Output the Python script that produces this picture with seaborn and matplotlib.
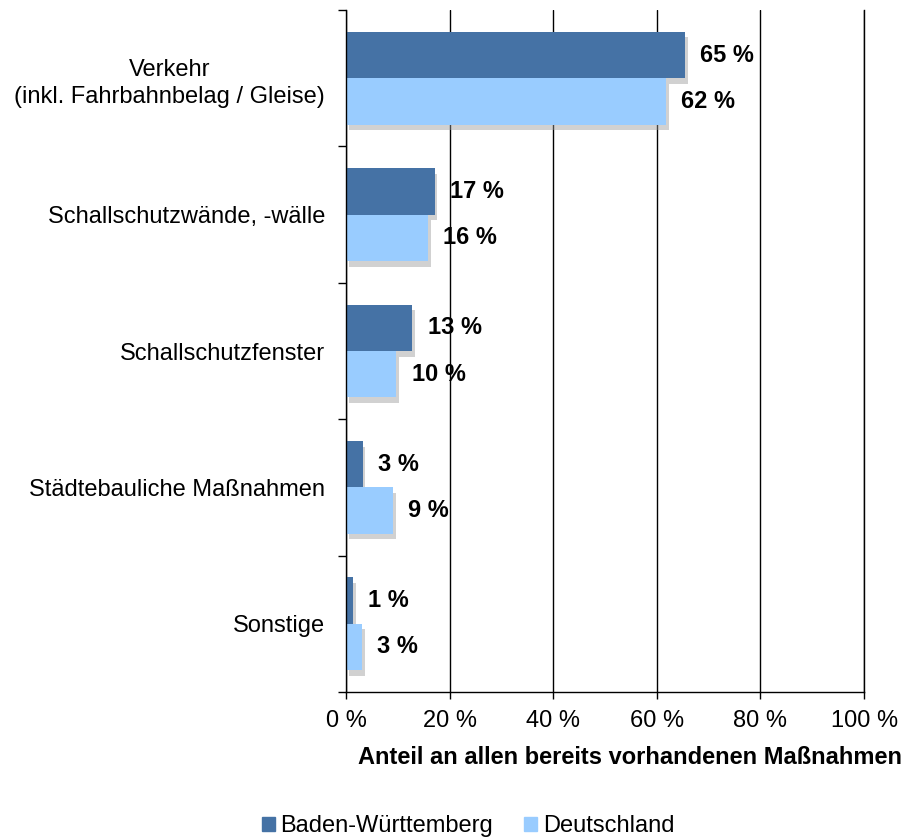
import pandas as pd
import matplotlib.pyplot as plt
import matplotlib.patheffects as pe
import seaborn as sns
from matplotlib.ticker import FixedLocator, MultipleLocator, FuncFormatter

# Daten
kategorien = ['Verkehr\n(inkl. Fahrbahnbelag / Gleise)',
              'Schallschutzwände, -wälle',
              'Schallschutzfenster',
              'Städtebauliche Maßnahmen',
              'Sonstige']
bw_werte = [65.4, 17.1, 12.8, 3.2, 1.4]
de_werte = [61.8, 15.8, 9.7, 9.1, 3.1]
bw_labels = ['65 %', '17 %', '13 %', '3 %', '1 %']
de_labels = ['62 %', '16 %', '10 %', '9 %', '3 %']
regionen = ['Baden-Württemberg', 'Deutschland']

df = pd.DataFrame({
    'Kategorie': kategorien * 2,
    'Anteil': bw_werte + de_werte,
    'Region': [regionen[0]] * 5 + [regionen[1]] * 5,
})

sns.set_style('white')
plt.rcParams['font.family'] = ['Liberation Sans', 'DejaVu Sans']
plt.rcParams['text.color'] = 'black'
plt.rcParams['xtick.color'] = 'black'
plt.rcParams['ytick.color'] = 'black'

fig = plt.figure(figsize=(9.09, 8.39), dpi=100)
ax = fig.add_axes([0.3806, 0.1752, 0.57, 0.8128])

farben = {'Baden-Württemberg': '#4572A5', 'Deutschland': '#99CCFF'}
sns.barplot(data=df, x='Anteil', y='Kategorie', hue='Region', order=kategorien,
            hue_order=regionen, palette=farben, width=0.68, gap=0,
            orient='h', ax=ax, legend=False, saturation=1)

# Schatten an den Balken
for p in ax.patches:
    p.set_linewidth(0)
    p.set_path_effects([pe.SimplePatchShadow(offset=(2, -4), shadow_rgbFace='#999999', alpha=0.45),
                        pe.Normal()])

# Beschriftungen
for cont, labs in zip(ax.containers, [bw_labels, de_labels]):
    ax.bar_label(cont, labels=labs, padding=11, fontsize=17, fontweight='bold', color='black')

ax.set_xlim(0, 100)
ax.set_ylim(4.5, -0.5)
ax.xaxis.set_major_locator(MultipleLocator(20))
ax.xaxis.set_major_formatter(FuncFormatter(lambda v, pos: f'{int(v)} %'))
ax.set_axisbelow(True)
ax.xaxis.grid(True, color='black', linewidth=1)
ax.yaxis.grid(False)

for s in ['left', 'bottom', 'right']:
    ax.spines[s].set_visible(True)
    ax.spines[s].set_color('black')
    ax.spines[s].set_linewidth(1)
ax.spines['top'].set_visible(False)

ax.tick_params(axis='x', which='major', bottom=True, length=5, width=1, color='black',
               labelsize=17, pad=8, direction='out', labelcolor='black')
ax.tick_params(axis='y', which='major', left=False, length=0, labelsize=17, pad=15,
               labelcolor='black')
ax.yaxis.set_minor_locator(FixedLocator([-0.5, 0.5, 1.5, 2.5, 3.5, 4.5]))
ax.tick_params(axis='y', which='minor', left=True, length=6, width=1, color='black', direction='out')
for t in ax.get_yticklabels():
    t.set_multialignment('center')
    t.set_linespacing(1.3)

ax.set_xlabel('')
ax.set_ylabel('')
fig.text(630 / 909, 1 - 757 / 839, 'Anteil an allen bereits vorhandenen Maßnahmen',
         ha='center', va='center', fontsize=17, fontweight='bold', color='black')

# Legende
handles = [plt.Rectangle((0, 0), 1, 1, color=farben[r]) for r in regionen]
fig.legend(handles, regionen, loc='center', bbox_to_anchor=(468 / 909, 1 - 826 / 839),
           ncol=2, frameon=False, fontsize=17, handlelength=0.55, handleheight=0.55,
           handletextpad=0.25, columnspacing=1.3, labelcolor='black')

fig.savefig('out.png', dpi=100)
